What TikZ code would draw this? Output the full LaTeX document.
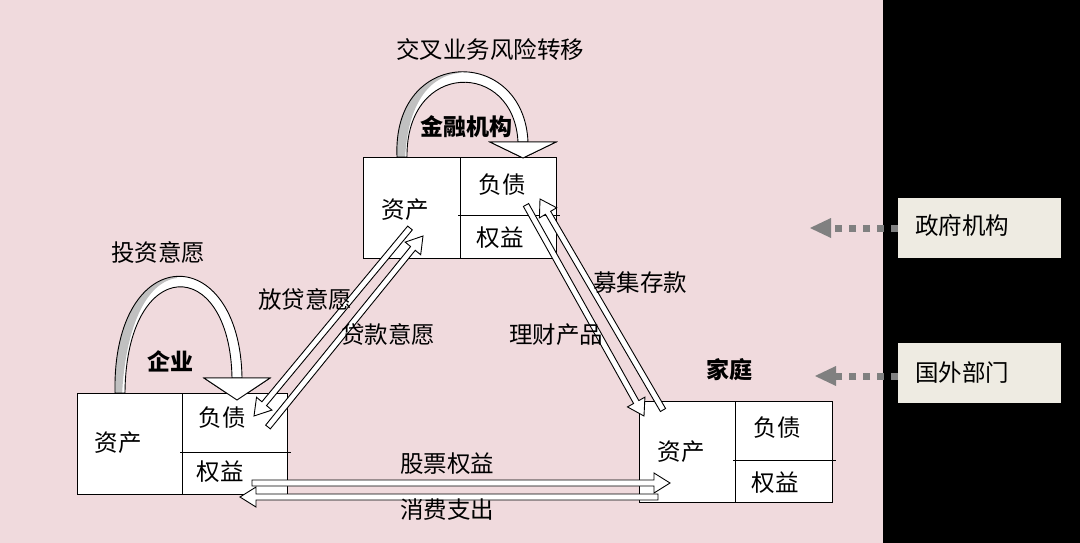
\documentclass[tikz,border=0pt]{standalone}
\usepackage{fontspec}
\newfontfamily\cjk{Noto Sans CJK SC}
\usetikzlibrary{calc}
\definecolor{bgpink}{RGB}{240,218,221}
\definecolor{beige}{RGB}{238,235,226}
\definecolor{loopgray}{RGB}{192,192,192}
\definecolor{dotgray}{RGB}{128,128,128}
\tikzset{
  lbl/.style={font=\cjk\fontsize{23.5}{27}\selectfont, inner sep=0pt},
  title/.style={font=\cjk\bfseries\fontsize{23}{27}\selectfont, inner sep=0pt},
  cell/.style={draw=black, line width=1pt, fill=white},
  arrbody/.style={fill=white, draw=black, line width=0.9pt, line join=miter},
  govbox/.style={fill=beige, inner sep=0pt, anchor=north west},
  dotline/.style={dotgray, line width=7pt, dash pattern=on 7pt off 7pt},
}
\newcommand\hollowarr[2]{%
  \path ($(#2)!16pt!(#1)$) coordinate (hb);
  \filldraw[arrbody] ($(#1)!3pt!90:(#2)$) -- ($(hb)!3pt!90:(#2)$) -- ($(hb)!10pt!90:(#2)$) -- (#2)
    -- ($(hb)!10pt!-90:(#2)$) -- ($(hb)!3pt!-90:(#2)$) -- ($(#1)!3pt!-90:(#2)$) -- cycle;
}
\begin{document}
\begin{tikzpicture}[x=1pt,y=-1pt]
\useasboundingbox (0,0) rectangle (1080,543);
\fill[bgpink] (0,0) rectangle (883,543);
\fill[black] (883,0) rectangle (1080,543);

% ---- loop arrow: financial ----
\fill[white] (397,157) .. controls (392,46) and (524,46) .. (528,142) -- (518,142) .. controls (514,60) and (406,60) .. (407,157) -- cycle;
\begin{scope}
  \clip (397,157) .. controls (392,46) and (524,46) .. (528,142) -- (518,142) .. controls (514,60) and (406,60) .. (407,157) -- cycle;
  \fill[loopgray] (380,160) -- (380,40) -- (459,40) -- (459,73) .. controls (425,77) and (407,110) .. (405,160) -- cycle;
\end{scope}
\draw[line width=0.9pt] (397,157) .. controls (392,46) and (524,46) .. (528,142) -- (518,142) .. controls (514,60) and (406,60) .. (407,157) -- cycle;
\filldraw[arrbody] (490,142) -- (556,142) -- (523,158) -- cycle;
\node[lbl] (risk) at (490,50) {交叉业务风险转移};

% ---- loop arrow: enterprise ----
\fill[white] (115,393) .. controls (112,240) and (240,240) .. (242,378) -- (232,378) .. controls (230,254) and (126,254) .. (125,393) -- cycle;
\begin{scope}
  \clip (115,393) .. controls (112,240) and (240,240) .. (242,378) -- (232,378) .. controls (230,254) and (126,254) .. (125,393) -- cycle;
  \fill[loopgray] (100,396) -- (100,260) -- (177,260) -- (177,278) .. controls (145,282) and (125,330) .. (122,396) -- cycle;
\end{scope}
\draw[line width=0.9pt] (115,393) .. controls (112,240) and (240,240) .. (242,378) -- (232,378) .. controls (230,254) and (126,254) .. (125,393) -- cycle;
\filldraw[arrbody] (204,378) -- (270,378) -- (237,400) -- cycle;
\node[lbl] (invest) at (158,253) {投资意愿};

% ---- boxes ----
% financial institutions
\node[cell, minimum width=97pt, minimum height=101pt, anchor=north west] (fa) at (363,157) {};
\node[cell, minimum width=96pt, minimum height=101pt, anchor=north west] (fr) at (460,157) {};
\draw[line width=1pt] (458,215) -- (560,215);
\node[lbl] at (405,210) {资产};
\node[lbl] at (502,185) {负债};
\node[lbl] at (500,238) {权益};
\node[title] (ft) at (466,127) {金融机构};
% enterprise
\node[cell, minimum width=105pt, minimum height=101pt, anchor=north west] (ea) at (77,393) {};
\node[cell, minimum width=105pt, minimum height=101pt, anchor=north west] (er) at (182,393) {};
\draw[line width=1pt] (180,452) -- (291,452);
\node[lbl] at (118,443) {资产};
\node[lbl] at (222,418) {负债};
\node[lbl] at (220,472) {权益};
\node[title] (et) at (170,361) {企业};
% household
\node[cell, minimum width=96pt, minimum height=101pt, anchor=north west] (ha) at (639,401) {};
\node[cell, minimum width=97pt, minimum height=101pt, anchor=north west] (hr) at (735,401) {};
\draw[line width=1pt] (733,460) -- (836,460);
\node[lbl] at (681,452) {资产};
\node[lbl] at (777,428) {负债};
\node[lbl] at (775,483) {权益};
\node[title] (ht) at (729,370) {家庭};

% redraw loop heads over box edges
\filldraw[arrbody] (490,142) -- (556,142) -- (523,158) -- cycle;
\filldraw[arrbody] (204,378) -- (270,378) -- (237,400) -- cycle;

% ---- diagonal arrows left ----
\coordinate (a1) at (410,228);
\coordinate (a2) at (254,416);
\hollowarr{a1}{a2}
\coordinate (b1) at (268,427);
\coordinate (b2) at (423,236);
\hollowarr{b1}{b2}
\node[lbl] at (305,300) {放贷意愿};
\node[lbl] at (388,335) {贷款意愿};

% ---- diagonal arrows right ----
\coordinate (c1) at (526,205);
\coordinate (c2) at (644,416);
\hollowarr{c1}{c2}
\coordinate (d1) at (663,410);
\coordinate (d2) at (540,199);
\hollowarr{d1}{d2}
\node[lbl] at (640,283) {募集存款};
\node[lbl] at (556,335) {理财产品};

% ---- horizontal arrows ----
\coordinate (e1) at (252,483);
\coordinate (e2) at (670,483);
\hollowarr{e1}{e2}
\coordinate (f1) at (658,497);
\coordinate (f2) at (240,497);
\hollowarr{f1}{f2}
\node[lbl] at (447,464) {股票权益};
\node[lbl] at (447,510) {消费支出};

% ---- outside sectors ----
\node[govbox, minimum width=163pt, minimum height=60pt] (gov) at (898,198) {};
\node[lbl, anchor=west] at (915,226) {政府机构};
\node[govbox, minimum width=163pt, minimum height=60pt] (frn) at (898,343) {};
\node[lbl, anchor=west] at (915,373) {国外部门};

\coordinate (g1) at (831,228);
\draw[dotline] (gov.west |- g1) -- (g1);
\fill[dotgray] (831,218) -- (831,238) -- (810,228) -- cycle;
\coordinate (h1) at (836,376);
\draw[dotline] (frn.west |- h1) -- (h1);
\fill[dotgray] (836,366) -- (836,386) -- (815,376) -- cycle;
\end{tikzpicture}
\end{document}
